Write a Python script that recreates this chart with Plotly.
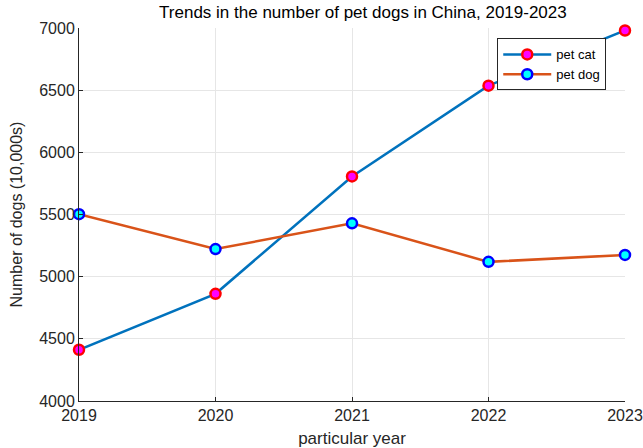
import plotly.graph_objects as go

years = [2019, 2020, 2021, 2022, 2023]
pet_cat = [4412, 4862, 5806, 6536, 6980]
pet_dog = [5503, 5222, 5429, 5119, 5175]

fig = go.Figure()
fig.add_trace(go.Scatter(
    x=years, y=pet_cat, mode="lines+markers", name="pet cat",
    line=dict(color="#0072BD", width=2.5),
    marker=dict(size=10, color="#FF00FF", line=dict(color="#FF0000", width=2.5)),
    cliponaxis=False,
))
fig.add_trace(go.Scatter(
    x=years, y=pet_dog, mode="lines+markers", name="pet dog",
    line=dict(color="#D95319", width=2.5),
    marker=dict(size=10, color="#00FFFF", line=dict(color="#0000FF", width=2.5)),
    cliponaxis=False,
))

font_family = "Liberation Sans, Arial, sans-serif"
fig.update_layout(
    width=643, height=448,
    margin=dict(l=79, r=18, t=28, b=47),
    paper_bgcolor="white", plot_bgcolor="white",
    font=dict(family=font_family, size=16, color="#262626"),
    title=dict(text="Trends in the number of pet dogs in China, 2019-2023",
               xref="paper", x=0.52, xanchor="center",
               yref="container", y=0.972, yanchor="middle",
               font=dict(size=17, color="#000000")),
    showlegend=True,
    legend=dict(x=0.766, y=0.972, xanchor="left", yanchor="top",
                bgcolor="white", bordercolor="#262626", borderwidth=1,
                font=dict(size=13, color="#000000"),
                itemwidth=48, tracegroupgap=0),
    xaxis=dict(
        range=[2019, 2023], tickvals=years, ticktext=[str(y) for y in years],
        showgrid=True, gridcolor="#e6e6e6", gridwidth=1,
        showline=True, linecolor="#262626", linewidth=1,
        ticks="inside", ticklen=4, tickcolor="#262626",
        zeroline=False, automargin=False,
        title=dict(text="particular year", standoff=10, font=dict(size=17)),
        tickfont=dict(size=16),
    ),
    yaxis=dict(
        range=[4000, 7000], tickvals=[4000, 4500, 5000, 5500, 6000, 6500, 7000],
        showgrid=True, gridcolor="#e6e6e6", gridwidth=1,
        showline=True, linecolor="#262626", linewidth=1,
        ticks="inside", ticklen=4, tickcolor="#262626",
        zeroline=False, automargin=False,
        title=dict(text="Number of dogs (10,000s)", standoff=12, font=dict(size=16)),
        tickfont=dict(size=16),
    ),
)

fig.write_html("out.html")
